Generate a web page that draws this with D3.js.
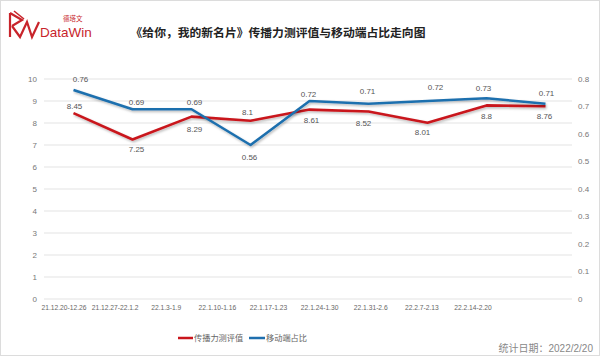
<!DOCTYPE html>
<html><head><meta charset="utf-8">
<script src="https://cdn.jsdelivr.net/npm/d3@7/dist/d3.min.js"></script>
<style>
html,body{margin:0;padding:0;background:#fff;}
text{font-family:"Liberation Sans",Arial,"Noto Sans CJK SC",sans-serif;}
</style></head>
<body><svg id="c" width="600" height="356"></svg>
<script>
const categories = ["21.12.20-12.26","21.12.27-22.1.2","22.1.3-1.9","22.1.10-1.16","22.1.17-1.23","22.1.24-1.30","22.1.31-2.6","22.2.7-2.13","22.2.14-2.20"];
const scoreValues = [8.45, 7.25, 8.29, 8.1, 8.61, 8.52, 8.01, 8.8, 8.76];
const mobileShare = [0.76, 0.69, 0.69, 0.56, 0.72, 0.71, 0.72, 0.73, 0.71];
const leftTicks = [0,1,2,3,4,5,6,7,8,9,10];
const rightTicks = [0,0.1,0.2,0.3,0.4,0.5,0.6,0.7,0.8];
const seriesNames = ["传播力测评值","移动端占比"];
const scoreLabelPos = ["above","below","below","above","below","below","below","below","below"];
const shareLabelPos = ["above","above","above","below","above","above","above","above","above"];

const svg = d3.select("#c");
const W = 600, H = 356;
const red = "#c9161c", blue = "#1f6fae";

// label nudges (layout only)
const scoreNudge = [[1,-7],[4,10],[3,13],[-3,-9],[2,11],[-5,12],[-5,9],[0,11],[-1,10]];
const shareNudge = [[7,-11],[4,-7],[3,-7],[-1,12],[-1,-7],[-1,-13],[8,-14],[-3,-10],[1,-11]];

svg.append("rect").attr("x",0.5).attr("y",0.5).attr("width",W-1).attr("height",H-1)
  .attr("fill","#fff").attr("stroke","#dcdcdc");

const defs = svg.append("defs");
const f = defs.append("filter").attr("id","sh").attr("x","-10%").attr("y","-50%").attr("width","120%").attr("height","200%");
f.append("feDropShadow").attr("dx",1).attr("dy",1.5).attr("stdDeviation",1.2).attr("flood-color","#000").attr("flood-opacity",0.28);

const x = d3.scaleBand().domain(categories).range([44,575]);
const xl = d3.scalePoint().domain(categories).range([64,473]);
const yL = d3.scaleLinear().domain([0,10]).range([299,79]);
const yR = d3.scaleLinear().domain([0,0.8]).range([299,79]);
const cx = d => x(d) + x.bandwidth()/2;

svg.append("g").selectAll("line").data(leftTicks).join("line")
  .attr("x1",44).attr("x2",572).attr("y1",d=>yL(d)).attr("y2",d=>yL(d))
  .attr("stroke","#e3e3e3").attr("stroke-width",1);

svg.append("g").selectAll("text").data(leftTicks).join("text")
  .attr("x",37).attr("y",d=>yL(d)).attr("dy","0.35em").attr("text-anchor","end")
  .attr("font-size",8).attr("fill","#777").text(d=>d);
svg.append("g").selectAll("text").data(rightTicks).join("text")
  .attr("x",578).attr("y",d=>yR(d)).attr("dy","0.35em").attr("text-anchor","start")
  .attr("font-size",8).attr("fill","#777").text(d=>d===0?"0":d3.format(".1f")(d));
svg.append("g").selectAll("text").data(categories).join("text")
  .attr("x",d=>xl(d)).attr("y",308).attr("dy","0.35em").attr("text-anchor","middle")
  .attr("font-size",6.7).attr("fill","#666").text(d=>d);

const lineScore = d3.line().x((d,i)=>cx(categories[i])).y(d=>yL(d));
const lineShare = d3.line().x((d,i)=>cx(categories[i])).y(d=>yR(d));
svg.append("path").datum(scoreValues).attr("d",lineScore).attr("fill","none")
  .attr("stroke",red).attr("stroke-width",2.6).attr("stroke-linejoin","round").attr("filter","url(#sh)");
svg.append("path").datum(mobileShare).attr("d",lineShare).attr("fill","none")
  .attr("stroke",blue).attr("stroke-width",2.6).attr("stroke-linejoin","round").attr("filter","url(#sh)");

function labels(vals, yS, nudge){
  const g = svg.append("g");
  vals.forEach((v,i)=>{
    const px = cx(categories[i]), py = yS(v);
    const lx = px + nudge[i][0], ly = py + nudge[i][1];
    g.append("text").attr("x",lx).attr("y",ly).attr("dy","0.35em").attr("text-anchor","middle")
      .attr("font-size",8).attr("fill","#555").text(v);
  });
}
labels(scoreValues, yL, scoreNudge);
labels(mobileShare, yR, shareNudge);

const lg = svg.append("g");
lg.append("line").attr("x1",178).attr("x2",193).attr("y1",338).attr("y2",338).attr("stroke",red).attr("stroke-width",2.5);
lg.append("text").attr("x",194).attr("y",338).attr("dy","0.35em").attr("font-size",8.2).attr("fill","#666").text(seriesNames[0]);
lg.append("line").attr("x1",249).attr("x2",265).attr("y1",338).attr("y2",338).attr("stroke",blue).attr("stroke-width",2.5);
lg.append("text").attr("x",266).attr("y",338).attr("dy","0.35em").attr("font-size",8.2).attr("fill","#666").text(seriesNames[1]);

svg.append("text").attr("x",593).attr("y",348).attr("dy","0.35em").attr("text-anchor","end")
  .attr("font-size",10).attr("fill","#888").text("统计日期：2022/2/20");

svg.append("text").attr("x",278).attr("y",33).attr("dy","0.35em").attr("text-anchor","middle")
  .attr("font-size",11.8).attr("font-weight","bold").attr("fill","#222")
  .attr("font-family","'Noto Sans CJK SC',sans-serif").text("《给你，我的新名片》传播力测评值与移动端占比走向图");

const logo = svg.append("g").attr("fill","none").attr("stroke","#c8242b").attr("stroke-width",2.2).attr("stroke-linejoin","miter");
logo.append("path").attr("d","M10,13 L10,37");
logo.append("path").attr("d","M10,13 L22,20 L12,26");
logo.append("path").attr("d","M12,26 L20,37 L27,22 L32,37 L39,22");
logo.append("path").attr("d","M14,11 L24,19").attr("stroke-width",1.6);
svg.append("text").attr("x",40).attr("y",37).attr("font-size",13.5).attr("fill","#c8242b").text("DataWin");
svg.append("text").attr("x",63).attr("y",21).attr("font-size",6.5).attr("fill","#c8242b")
  .attr("font-family","'Noto Sans CJK SC',sans-serif").text("德塔文");
</script></body></html>
